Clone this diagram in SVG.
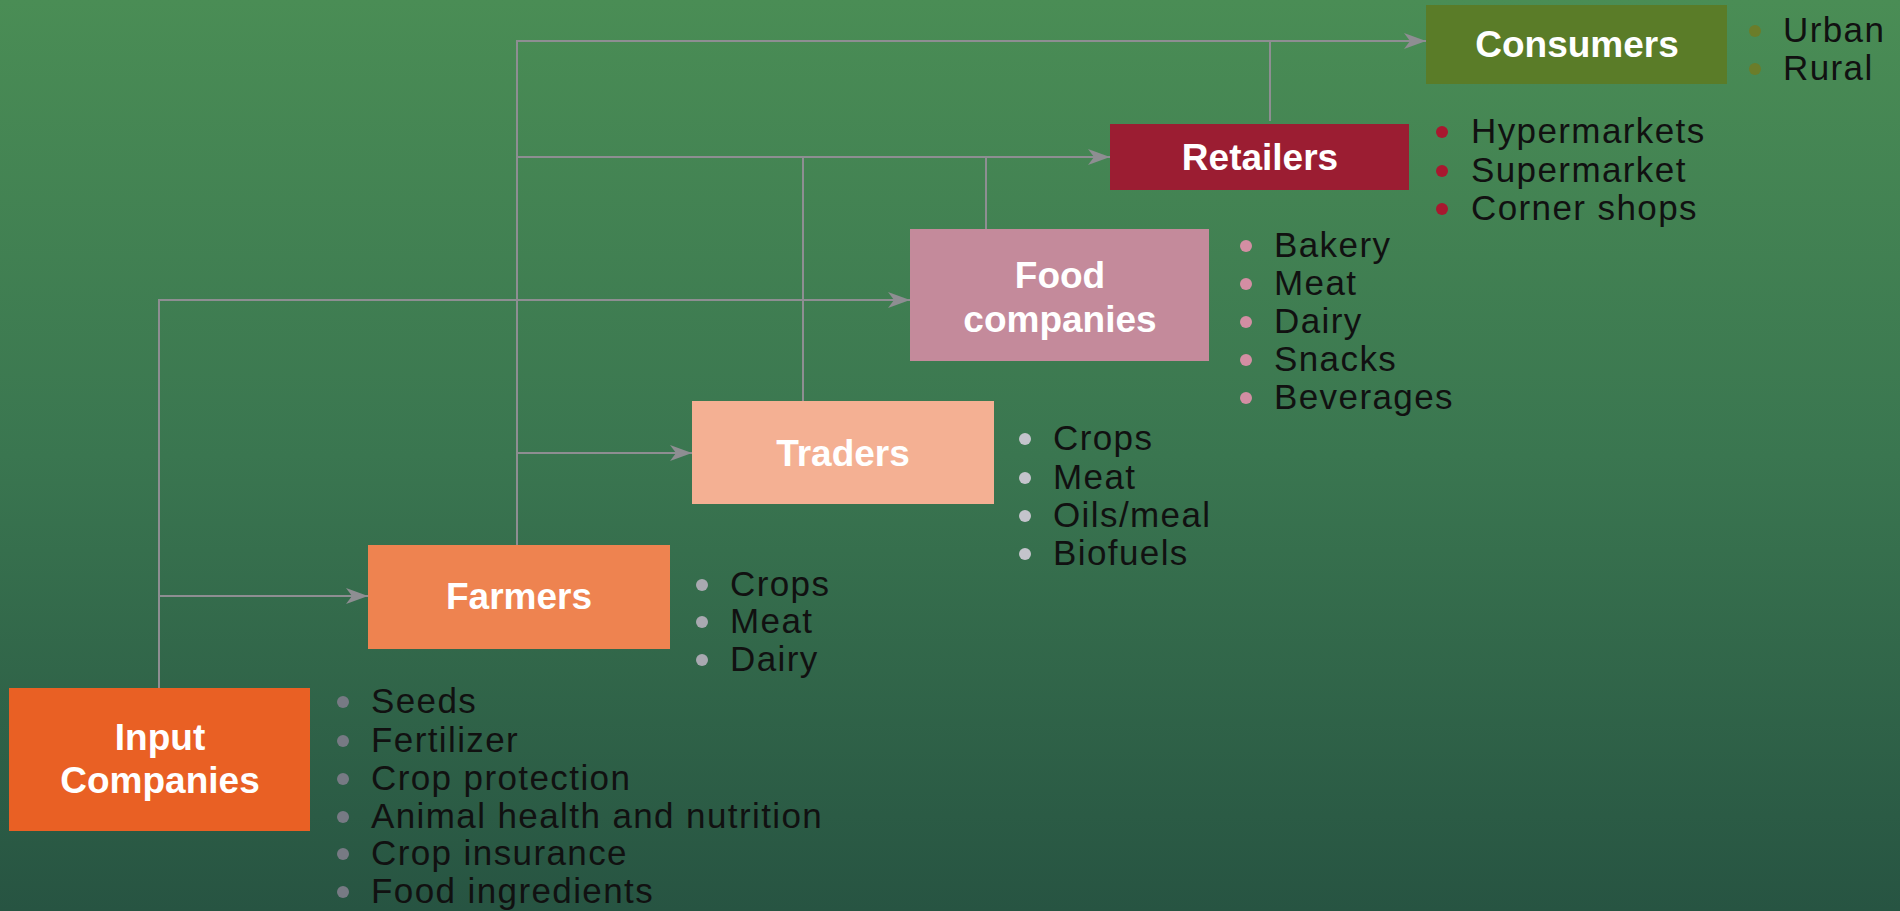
<svg xmlns="http://www.w3.org/2000/svg" width="1900" height="911" viewBox="0 0 1900 911">
<defs>
<linearGradient id="bg" x1="0" y1="0" x2="0" y2="1">
<stop offset="0" stop-color="#4a8d55"/>
<stop offset="0.5" stop-color="#3a7650"/>
<stop offset="1" stop-color="#275442"/>
</linearGradient>
<marker id="arr" viewBox="0 0 22 16" refX="22" refY="8" markerWidth="22" markerHeight="16" markerUnits="userSpaceOnUse" orient="auto">
<path d="M0,0 L22,8 L0,16 L6,8 Z" fill="#8e8e92"/>
</marker>
<style>
.lbl{font-family:"Liberation Sans",Arial,sans-serif;font-weight:bold;font-size:37px;fill:#ffffff;text-anchor:middle}
.itm{font-family:"Liberation Sans",Arial,sans-serif;font-size:35px;fill:#111111;letter-spacing:1.4px}
.ln{fill:none;stroke:#8e8e92;stroke-width:2}
</style>
</defs>
<rect x="0" y="0" width="1900" height="911" fill="url(#bg)"/>

<g id="connectors">
<path class="ln" d="M159,688 V300 H910" marker-end="url(#arr)"/>
<path class="ln" d="M159,596 H368" marker-end="url(#arr)"/>
<path class="ln" d="M517,545 V41 H1426" marker-end="url(#arr)"/>
<path class="ln" d="M517,453 H692" marker-end="url(#arr)"/>
<path class="ln" d="M517,157 H1110" marker-end="url(#arr)"/>
<path class="ln" d="M803,401 V157"/>
<path class="ln" d="M986,229 V157"/>
<path class="ln" d="M1270,121 V41"/>
</g>

<g id="consumers">
<rect x="1426" y="5" width="301" height="79" fill="#5a7c28"/>
<text class="lbl" x="1577" y="57">Consumers</text>
<circle cx="1755" cy="31" r="6" fill="#6b7d2a"/>
<circle cx="1755" cy="69" r="6" fill="#6b7d2a"/>
<text class="itm" x="1783" y="42">Urban</text>
<text class="itm" x="1783" y="80">Rural</text>
</g>

<g id="retailers">
<rect x="1110" y="124" width="299" height="66" fill="#9b1d32"/>
<text class="lbl" x="1260" y="170">Retailers</text>
<circle cx="1442" cy="132" r="6" fill="#a8182f"/>
<circle cx="1442" cy="171" r="6" fill="#a8182f"/>
<circle cx="1442" cy="209" r="6" fill="#a8182f"/>
<text class="itm" x="1471" y="143">Hypermarkets</text>
<text class="itm" x="1471" y="182">Supermarket</text>
<text class="itm" x="1471" y="220">Corner shops</text>
</g>

<g id="food-companies">
<rect x="910" y="229" width="299" height="132" fill="#c48a9b"/>
<text class="lbl" x="1060" y="288">Food</text>
<text class="lbl" x="1060" y="332">companies</text>
<circle cx="1246" cy="246" r="6" fill="#d38ea3"/>
<circle cx="1246" cy="284" r="6" fill="#d38ea3"/>
<circle cx="1246" cy="322" r="6" fill="#d38ea3"/>
<circle cx="1246" cy="360" r="6" fill="#d38ea3"/>
<circle cx="1246" cy="398" r="6" fill="#d38ea3"/>
<text class="itm" x="1274" y="257">Bakery</text>
<text class="itm" x="1274" y="295">Meat</text>
<text class="itm" x="1274" y="333">Dairy</text>
<text class="itm" x="1274" y="371">Snacks</text>
<text class="itm" x="1274" y="409">Beverages</text>
</g>

<g id="traders">
<rect x="692" y="401" width="302" height="103" fill="#f4b093"/>
<text class="lbl" x="843" y="466">Traders</text>
<circle cx="1025" cy="439" r="6" fill="#c4c4cc"/>
<circle cx="1025" cy="478" r="6" fill="#c4c4cc"/>
<circle cx="1025" cy="516" r="6" fill="#c4c4cc"/>
<circle cx="1025" cy="554" r="6" fill="#c4c4cc"/>
<text class="itm" x="1053" y="450">Crops</text>
<text class="itm" x="1053" y="489">Meat</text>
<text class="itm" x="1053" y="527">Oils/meal</text>
<text class="itm" x="1053" y="565">Biofuels</text>
</g>

<g id="farmers">
<rect x="368" y="545" width="302" height="104" fill="#ee8350"/>
<text class="lbl" x="519" y="609">Farmers</text>
<circle cx="702" cy="585" r="6" fill="#a9a9b1"/>
<circle cx="702" cy="622" r="6" fill="#a9a9b1"/>
<circle cx="702" cy="660" r="6" fill="#a9a9b1"/>
<text class="itm" x="730" y="596">Crops</text>
<text class="itm" x="730" y="633">Meat</text>
<text class="itm" x="730" y="671">Dairy</text>
</g>

<g id="input-companies">
<rect x="9" y="688" width="301" height="143" fill="#e96024"/>
<text class="lbl" x="160" y="750">Input</text>
<text class="lbl" x="160" y="793">Companies</text>
<circle cx="343" cy="702" r="6" fill="#777a84"/>
<circle cx="343" cy="741" r="6" fill="#777a84"/>
<circle cx="343" cy="779" r="6" fill="#777a84"/>
<circle cx="343" cy="817" r="6" fill="#777a84"/>
<circle cx="343" cy="854" r="6" fill="#777a84"/>
<circle cx="343" cy="892" r="6" fill="#777a84"/>
<text class="itm" x="371" y="713">Seeds</text>
<text class="itm" x="371" y="752">Fertilizer</text>
<text class="itm" x="371" y="790">Crop protection</text>
<text class="itm" x="371" y="828">Animal health and nutrition</text>
<text class="itm" x="371" y="865">Crop insurance</text>
<text class="itm" x="371" y="903">Food ingredients</text>
</g>
</svg>
